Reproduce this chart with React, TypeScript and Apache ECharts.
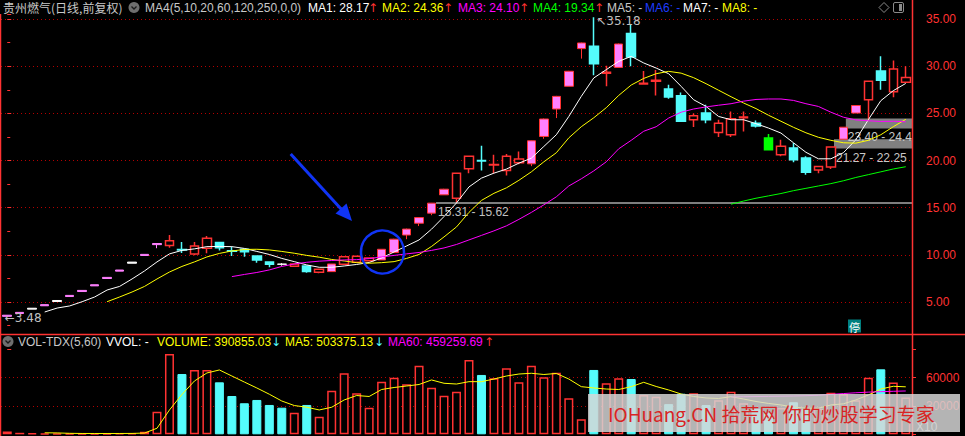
import React, { useEffect, useRef } from "react";
import * as echarts from "echarts";

// ---------- data ----------
const days: string[] = Array.from({ length: 73 }, (_, i) => `D${i + 1}`);

// [open, close, low, high]
const candles: number[][] = [
  [3.48, 3.6, 3.48, 3.6], [3.78, 3.9, 3.78, 3.9], [4.24, 4.34, 4.24, 4.34], [4.6, 4.72, 4.6, 4.72],
  [5.05, 5.16, 5.05, 5.16], [5.58, 5.7, 5.58, 5.7], [6.11, 6.23, 6.11, 6.23], [6.71, 6.83, 6.71, 6.83],
  [7.49, 7.61, 7.49, 7.61], [8.27, 8.39, 8.27, 8.39], [9.11, 9.23, 9.11, 9.23], [9.93, 10.05, 9.93, 10.05],
  [11.08, 11.2, 10.7, 11.2], [10.98, 11.48, 10.76, 12.1], [10.56, 10.5, 10.2, 11.37], [10.1, 10.94, 9.95, 11.37],
  [10.7, 11.76, 10.17, 12.0], [11.3, 10.76, 10.45, 11.35], [10.43, 10.38, 9.88, 10.87], [10.59, 10.34, 9.81, 10.62],
  [9.88, 9.46, 9.17, 9.9], [9.25, 9.0, 8.68, 9.27], [9.0, 9.02, 8.85, 9.12], [8.78, 9.03, 8.7, 9.05],
  [8.82, 8.22, 8.1, 8.85], [8.15, 8.47, 8.05, 8.5], [8.22, 9.03, 8.22, 9.03], [9.0, 9.81, 8.95, 9.85],
  [9.21, 9.85, 9.15, 9.9], [9.38, 9.67, 9.3, 9.7], [9.46, 10.59, 9.46, 10.62], [10.24, 11.66, 10.24, 11.7],
  [12.1, 12.73, 11.66, 12.78], [13.35, 13.95, 13.05, 14.0], [14.42, 15.48, 14.2, 15.5], [16.36, 16.96, 16.36, 17.0],
  [16.0, 18.66, 15.48, 18.7], [19.13, 20.46, 18.66, 20.5], [20.0, 19.95, 18.95, 21.56], [19.52, 19.58, 18.66, 20.6],
  [18.95, 20.46, 18.4, 20.7], [19.75, 20.17, 19.6, 20.96], [19.65, 22.09, 19.4, 22.12], [22.55, 24.4, 22.3, 24.45],
  [25.46, 26.8, 24.5, 26.85], [27.87, 29.46, 27.87, 29.5], [31.86, 32.46, 30.8, 32.5], [32.1, 30.26, 29.03, 35.18],
  [29.25, 29.35, 27.87, 30.05], [29.87, 32.35, 29.87, 32.4], [33.45, 30.97, 30.0, 34.4], [28.1, 28.2, 28.05, 29.5],
  [28.4, 28.5, 26.9, 29.6], [27.58, 26.73, 26.55, 28.04], [26.87, 24.15, 24.1, 27.2], [24.32, 24.75, 23.55, 24.97],
  [25.03, 24.32, 23.96, 25.9], [22.97, 23.96, 22.49, 24.32], [22.73, 24.43, 22.49, 25.2], [24.52, 24.6, 23.07, 25.2],
  [23.96, 23.65, 23.5, 24.25], [22.39, 21.15, 21.15, 22.8], [20.6, 21.5, 20.46, 22.2], [21.33, 20.07, 19.82, 21.86],
  [20.26, 18.76, 18.5, 20.46], [19.0, 19.37, 18.66, 19.4], [19.3, 21.44, 19.1, 21.5], [22.26, 23.53, 22.26, 23.55],
  [25.03, 25.83, 25.03, 25.88], [26.45, 28.4, 24.32, 28.45], [29.5, 28.5, 27.5, 31.05], [27.3, 29.7, 26.7, 30.6],
  [28.3, 28.8, 28.3, 30.0],
];

// P = one-price limit-up dash, L = limit-up body, U = up (hollow red), D = down (cyan), W = flat (white), G = green
const candleKind: string[] = (
  "PPWPWPPPPPWPP" + "UDUUDDDDDWUDU" + "LUUULLLLLLUUD" + "UUULLLLLDULDU" + "UDDUDUUUDGUDD" + "UULLUDUU"
).split("");

const ma5: (number | null)[] = [
  null, null, null, 3.94, 4.36, 4.58, 5.03, 5.53, 6.27, 6.65, 7.44, 8.29, 9.25, 10.1, 10.47, 10.63, 10.87,
  10.89, 10.87, 10.68, 10.36, 10.04, 9.62, 9.28, 8.93, 8.68, 8.68, 8.82, 8.98, 9.19, 9.67, 10.31, 10.94,
  11.58, 12.72, 14.06, 15.5, 17.2, 18.13, 18.66, 19.09, 19.72, 20.25, 21.49, 22.73, 24.67, 26.8, 28.75,
  29.63, 30.51, 31.04, 30.34, 29.8, 29.2, 27.86, 26.44, 25.73, 24.67, 24.32, 24.32, 23.9, 23.44, 22.91,
  21.88, 20.87, 20.18, 20.18, 20.82, 22.2, 24.32, 26.34, 27.4, 28.17,
];
const ma10: (number | null)[] = [
  null, null, null, null, null, null, null, null, 5.03, 5.53, 6.06, 6.65, 7.44, 8.18, 8.77, 9.25, 9.78,
  10.15, 10.41, 10.57, 10.59, 10.52, 10.36, 10.17, 9.94, 9.75, 9.51, 9.35, 9.17, 9.11, 9.17, 9.28, 9.62,
  10.04, 10.89, 11.9, 12.96, 14.5, 15.77, 16.52, 17.1, 17.9, 18.8, 19.86, 20.82, 22.4, 23.58, 24.53,
  25.6, 26.9, 28.0, 28.7, 29.2, 29.45, 29.26, 28.78, 28.14, 27.45, 26.76, 26.1, 25.5, 24.8, 24.16, 23.52,
  22.94, 22.46, 22.14, 21.88, 21.84, 22.14, 22.73, 23.58, 24.36,
];
const ma20: (number | null)[] = [
  null, null, null, null, null, null, null, null, null, null, null, null, null, null, null, null, null, null,
  7.69, 7.92, 8.13, 8.4, 8.77, 9.03, 9.21, 9.33, 9.4, 9.46, 9.49, 9.6, 9.78, 9.94, 10.1, 10.25, 10.47,
  10.73, 11.1, 11.58, 12.06, 12.54, 13.07, 13.76, 14.5, 15.3, 16.15, 17.3, 18.06, 18.9, 19.86, 21.24,
  22.14, 23.1, 23.58, 24.5, 25.12, 25.46, 25.68, 25.86, 26.02, 26.29, 26.47, 26.52, 26.52, 26.37, 26.02,
  25.73, 25.12, 24.59, 24.3, 24.21, 24.14, 24.16, 24.1,
];
const ma60: (number | null)[] = [
  ...Array(58).fill(null),
  15.37, 15.7, 16.0, 16.25, 16.5, 16.8, 17.05, 17.3, 17.55, 17.85, 18.2, 18.5, 18.8, 19.1, 19.34,
];

// volume, in the axis unit (x10)
const volume: number[] = [
  3000, 1600, 1000, 900, 900, 800, 800, 900, 900, 1000, 1100, 2700, 23800, 85100, 63900, 68200, 68200,
  55100, 40600, 32900, 36400, 31100, 28200, 22900, 31100, 18700, 46200, 64700, 43500, 28200, 55800, 60000,
  53000, 72700, 49400, 40900, 45200, 78800, 62900, 59400, 70000, 55100, 72700, 60400, 65300, 38200, 15900,
  68200, 54000, 59300, 58600, 41700, 39900, 32000, 43000, 43500, 31000, 36000, 45000, 33000, 27000, 22500,
  28000, 34000, 26500, 27000, 44000, 42700, 36000, 60000, 68900, 55000, 39086,
];
const volKind: string[] = (
  "UUUUUUUUUUUUUU" + "D" + "UU" + "DDDDDD" + "U" + "D" + "UUUUUUUUUUUUU" + "D" + "UUUUUUUU" + "D" + "UU" +
  "D" + "UU" + "DD" + "U" + "D" + "UUU" + "DD" + "U" + "DD" + "UUUUU" + "D" + "UU"
).split("");
const volMa5: (number | null)[] = [
  null, null, null, 1600, 1450, 1040, 880, 860, 860, 880, 940, 1320, 6400, 25800, 42200, 56500, 65000,
  68200, 61800, 55400, 49100, 42500, 35300, 30500, 28700, 25800, 28700, 36400, 41100, 40100, 47500, 49600,
  51200, 52800, 57600, 54100, 53300, 55800, 55800, 58600, 61800, 63900, 64700, 63400, 64500, 58600, 50500,
  49100, 48000, 47500, 50500, 55100, 50700, 47000, 42700, 40100, 38500, 38000, 39900, 37400, 34800, 32700,
  31100, 28900, 27600, 27600, 31100, 32300, 36400, 41700, 48000, 50900, 50338,
];
const volMa60: (number | null)[] = [
  ...Array(58).fill(null),
  39600, 39800, 40000, 40200, 40400, 40600, 40900, 41400, 42300, 43200, 44000, 44700, 45200, 45600, 45926,
];

// price gaps
const gapLines = [{ from: 34.36, level: 15.55, label: "15.31 - 15.62" }];
const gapZones = [
  { from: 66.25, low: 21.27, high: 22.25, label: "21.27 - 22.25" },
  { from: 67.2, low: 23.4, high: 24.45, label: "23.40 - 24.4" },
];

const priceLow = { index: 0, value: 3.48 };
const priceHigh = { index: 47, value: 35.18 };

// ---------- styles ----------
const RED = "#ff3232";
const CYAN = "#54fcfc";
const PINK = "#ff80ff";
const GRIDRED = "#b40000";
const FONT = '"Liberation Sans", Arial, sans-serif';
const CJK = '"Noto Sans CJK SC", sans-serif';

function candleStyle(k: string) {
  const s = (fill: string, border: string, w: number) => ({
    color: fill, color0: fill, borderColor: border, borderColor0: border, borderWidth: w,
  });
  switch (k) {
    case "U": return s("#000000", RED, 1.5);
    case "D": return s(CYAN, CYAN, 1.5);
    case "L": return s(PINK, RED, 1);
    case "P": return s(PINK, PINK, 1);
    case "W": return s("#ffffff", "#ffffff", 1);
    case "G": return s("#00ff00", "#00ff00", 1.5);
    default: return s(RED, RED, 1);
  }
}

const headerTop = [
  { t: "贵州燃气(日线,前复权)", x: 3, c: "#c8c8c8", f: CJK },
  { t: "MA4(5,10,20,60,120,250,0,0)", x: 145, c: "#c8c8c8" },
  { t: "MA1: 28.17", x: 308, c: "#ffffff" },
  { t: "↑", x: 368, c: RED },
  { t: "MA2: 24.36", x: 382, c: "#ffff00" },
  { t: "↑", x: 443, c: RED },
  { t: "MA3: 24.10", x: 458, c: "#ff00ff" },
  { t: "↑", x: 519, c: RED },
  { t: "MA4: 19.34", x: 533, c: "#00ff00" },
  { t: "↑", x: 594, c: RED },
  { t: "MA5: -", x: 607, c: "#c8c8c8" },
  { t: "MA6: -", x: 645, c: "#1e3cff" },
  { t: "MA7: -", x: 683, c: "#ffffff" },
  { t: "MA8: -", x: 722, c: "#ffff00" },
];
const headerVol = [
  { t: "VOL-TDX(5,60)", x: 18, c: "#c8c8c8" },
  { t: "VVOL: -", x: 106, c: "#ffffff" },
  { t: "VOLUME: 390855.03", x: 157, c: "#ffff00" },
  { t: "↓", x: 271, c: CYAN },
  { t: "MA5: 503375.13", x: 285, c: "#ffff00" },
  { t: "↓", x: 374, c: CYAN },
  { t: "MA60: 459259.69", x: 388, c: "#ff00ff" },
  { t: "↑", x: 484, c: RED },
];

function headerTexts(items: any[], y: number) {
  return items.map((h) => ({
    type: "text",
    x: h.x,
    y,
    z: 20,
    style: {
      text: h.t,
      fill: h.c,
      fontSize: 12,
      fontFamily: h.t.length === 1 ? '"DejaVu Sans", sans-serif' : h.f || FONT,
      verticalAlign: "middle",
    },
  }));
}

function icon(x: number, y: number) {
  return [
    { type: "circle", z: 20, shape: { cx: x, cy: y, r: 5.5 }, style: { fill: "#6e6e6e" } },
    {
      type: "polyline", z: 21,
      shape: { points: [[x - 2.5, y - 1], [x, y + 1.5], [x + 2.5, y - 1]] },
      style: { stroke: "#1a1a1a", lineWidth: 1.3, fill: null },
    },
  ];
}

export default function App() {
  const ref = useRef<HTMLDivElement>(null);
  useEffect(() => {
    document.body.style.margin = "0";
    document.body.style.background = "#000";
    const chart = echarts.init(ref.current!, null, { renderer: "svg" });

    const k = 283 / 30; // px per price unit
    const mainMax = 35.5;
    const mainTop = 19 - (mainMax - 35) * k;
    const volMax = 90000;
    const vk = 28.3 / 30000;
    const volZero = 434.3;
    const volTop = volZero - volMax * vk;

    const candleData = candles.map((c, i) => ({ value: c, itemStyle: candleStyle(candleKind[i]) }));
    const volData = volume.map((v, i) => ({
      value: v,
      itemStyle:
        volKind[i] === "U"
          ? { color: "#000000", borderColor: RED, borderWidth: 1.5 }
          : { color: CYAN, borderColor: CYAN, borderWidth: 1 },
    }));

    const lineSeries = (data: any[], color: string, x: number, y: number, z = 5) => ({
      type: "line", data, xAxisIndex: x, yAxisIndex: y, symbol: "none", showSymbol: false,
      lineStyle: { color, width: 1 }, silent: true, z, connectNulls: false,
    });

    const option: any = {
      animation: false,
      backgroundColor: "#000000",
      grid: [
        { left: 1, width: 911, top: mainTop, height: mainMax * k, outerBoundsMode: "none", containLabel: false },
        { left: 1, width: 911, top: volTop, height: volMax * vk, outerBoundsMode: "none", containLabel: false },
      ],
      xAxis: [
        { type: "category", gridIndex: 0, data: days, boundaryGap: true, show: false },
        { type: "category", gridIndex: 1, data: days, boundaryGap: true, show: false },
        { type: "value", gridIndex: 0, min: -0.5, max: 72.5, show: false },
      ],
      yAxis: [
        {
          type: "value", gridIndex: 0, position: "right", min: 0, max: mainMax, interval: 5,
          axisLine: { show: false },
          axisTick: { show: true, length: 4, lineStyle: { color: RED } },
          minorTick: { show: true, splitNumber: 2, length: 3, lineStyle: { color: RED } },
          axisLabel: {
            show: true, margin: 14, color: RED, fontSize: 12, fontFamily: FONT,
            formatter: (v: number) => (v > 0 && v % 5 === 0 ? v.toFixed(2) : ""),
          },
          splitLine: {
            show: true, showMinLine: false, showMaxLine: false,
            lineStyle: { color: GRIDRED, type: [1, 3], width: 1 },
          },
        },
        {
          type: "value", gridIndex: 1, position: "right", min: 0, max: volMax, interval: 30000,
          axisLine: { show: false },
          axisTick: { show: true, length: 4, lineStyle: { color: RED } },
          axisLabel: {
            show: true, margin: 14, color: RED, fontSize: 12, fontFamily: FONT,
            formatter: (v: number) => (v === 30000 || v === 60000 ? String(v) : ""),
          },
          splitLine: {
            show: true, showMinLine: false, showMaxLine: false,
            lineStyle: { color: GRIDRED, type: [1, 3], width: 1 },
          },
        },
      ],
      series: [
        {
          type: "candlestick", xAxisIndex: 0, yAxisIndex: 0, data: candleData, barWidth: 9, z: 3,
          silent: true,
          markPoint: {
            silent: true,
            symbol: "circle", symbolSize: 1,
            itemStyle: { color: "rgba(0,0,0,0)" },
            data: [
              {
                coord: [priceLow.index, priceLow.value],
                label: {
                  show: true, position: "right", distance: 0, offset: [-3, 2],
                  formatter: "←" + priceLow.value.toFixed(2), color: "#c0c0c0", fontSize: 12, fontFamily: '"DejaVu Sans", sans-serif',
                },
              },
              {
                coord: [priceHigh.index, priceHigh.value],
                label: {
                  show: true, position: "right", distance: 0, offset: [2, 4],
                  formatter: "↖" + priceHigh.value.toFixed(2), color: "#c0c0c0", fontSize: 12, fontFamily: '"DejaVu Sans", sans-serif',
                },
              },
            ],
          },
        },
        lineSeries(ma5, "#ffffff", 0, 0),
        lineSeries(ma10, "#ffff00", 0, 0),
        lineSeries(ma20, "#ff00ff", 0, 0),
        lineSeries(ma60, "#00ff00", 0, 0),
        {
          type: "line", xAxisIndex: 2, yAxisIndex: 0, data: [], silent: true, z: 2,
          markLine: {
            silent: true, symbol: ["none", "none"],
            lineStyle: { color: "#a8a8a8", width: 1.5, type: "solid" },
            label: {
              show: true, position: "insideStartBottom", color: "#c0c0c0", fontSize: 12, fontFamily: FONT,
              distance: [2, 4],
            },
            data: gapLines.map((g) => [
              { coord: [g.from, g.level], label: { formatter: g.label } },
              { coord: [72.5, g.level] },
            ]),
          },
          markArea: {
            silent: true,
            itemStyle: { color: "#808080" },
            label: {
              show: true, position: "insideBottomLeft", offset: [-3, 20], color: "#c8c8c8", fontSize: 12,
              fontFamily: FONT,
            },
            data: gapZones.map((g) => [
              { coord: [g.from, g.low], name: g.label },
              { coord: [72.5, g.high] },
            ]),
          },
        },
        {
          type: "bar", xAxisIndex: 1, yAxisIndex: 1, data: volData, barWidth: 9, silent: true, z: 2,
        },
        lineSeries(volMa5, "#ffff00", 1, 1),
        lineSeries(volMa60, "#ff00ff", 1, 1),
      ],
      graphic: [
        // frame lines
        { type: "line", z: 10, shape: { x1: 0.5, y1: 14, x2: 0.5, y2: 436 }, style: { stroke: RED, lineWidth: 1.5 } },
        { type: "line", z: 10, shape: { x1: 912.5, y1: 0, x2: 912.5, y2: 436 }, style: { stroke: RED, lineWidth: 1.5 } },
        { type: "line", z: 10, shape: { x1: 0, y1: 334.5, x2: 965, y2: 334.5 }, style: { stroke: RED, lineWidth: 1.5 } },
        // headers
        ...headerTexts(headerTop, 7.5),
        ...icon(134, 7.5),
        ...headerTexts(headerVol, 341.5),
        ...icon(8, 341.5),
        {
          type: "polygon", z: 20,
          shape: { points: [[884, 2.5], [889, 7.5], [884, 12.5], [879, 7.5]] },
          style: { stroke: "#8a8a8a", lineWidth: 1, fill: null },
        },
        {
          type: "rect", z: 20, shape: { x: 893.5, y: 2.5, width: 10, height: 10, r: 1.5 },
          style: { stroke: "#8a8a8a", lineWidth: 1, fill: "#000" },
        },
        { type: "rect", z: 21, shape: { x: 899, y: 4, width: 3, height: 7 }, style: { fill: "#8a8a8a" } },
        // suspension badge
        { type: "rect", z: 20, shape: { x: 848, y: 319.5, width: 13, height: 13 }, style: { fill: "#008080" } },
        {
          type: "text", z: 21, x: 854.5, y: 326.5,
          style: { text: "停", fill: "#ffffff", fontSize: 11, fontFamily: CJK, align: "center", verticalAlign: "middle" },
        },
        // blue annotation arrow and circle
        {
          type: "line", z: 30, shape: { x1: 290.7, y1: 154, x2: 342, y2: 210 },
          style: { stroke: "#1034f5", lineWidth: 3 },
        },
        {
          type: "polygon", z: 30, shape: { points: [[352, 221], [335.5, 213.5], [346.5, 203.5]] },
          style: { fill: "#1034f5" },
        },
        {
          type: "circle", z: 30, shape: { cx: 382.5, cy: 252, r: 21.5 },
          style: { stroke: "#1034f5", lineWidth: 2.5, fill: null },
        },
        // volume unit
        {
          type: "text", z: 20, x: 916, y: 427,
          style: { text: "X10", fill: "#c0c0c0", fontSize: 12, fontFamily: FONT, verticalAlign: "middle" },
        },
        // watermark
        {
          type: "rect", z: 100, shape: { x: 588, y: 394, width: 372, height: 38 },
          style: { fill: "rgba(215,215,215,0.84)" },
        },
        {
          type: "text", z: 101, x: 608, y: 413.5,
          style: {
            text: "IOHuang.CN 拾荒网 你的炒股学习专家", fill: "#d92424", fontSize: 19, fontFamily: CJK,
            verticalAlign: "middle",
          },
        },
      ],
    };
    chart.setOption(option);
    return () => chart.dispose();
  }, []);
  return <div ref={ref} style={{ width: 965, height: 436, position: "fixed", left: 0, top: 0 }} />;
}
